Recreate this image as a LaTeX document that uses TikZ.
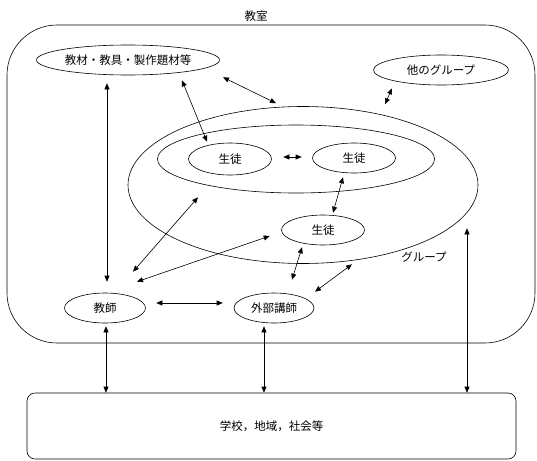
\documentclass[tikz,border=0pt]{standalone}
\usepackage{fontspec}
\newfontfamily\jp{Noto Sans CJK JP}
\usetikzlibrary{shapes.geometric,arrows.meta,calc}
\tikzset{
  lbl/.style={font=\jp\fontsize{11.5}{13}\selectfont, inner sep=0pt},
  ell/.style={draw, ellipse, inner sep=0pt, line width=0.6pt, lbl},
  arr/.style={line width=0.6pt, {Triangle[length=6pt,width=5pt]}-{Triangle[length=6pt,width=5pt]}},
}
\begin{document}
\begin{tikzpicture}[x=1pt,y=-1pt]
\useasboundingbox (0,0) rectangle (537,460);
% classroom
\node[draw, line width=0.6pt, rectangle, rounded corners=50pt, minimum width=528pt, minimum height=318pt, inner sep=0pt] (room) at (271,184) {};
\node[lbl] (roomlbl) at (256,16) {教室};
% school box
\node[draw, line width=0.6pt, rectangle, rounded corners=8pt, minimum width=489pt, minimum height=66pt, lbl] (school) at (271.5,426) {学校，地域，社会等};
% group ellipses
\node[ell, minimum width=350pt, minimum height=157pt] (big) at (303,185) {};
\node[ell, minimum width=277pt, minimum height=68pt] (inner) at (296,159) {};
\node[lbl] (grouplbl) at (424,257) {グループ};
% nodes
\node[ell, minimum width=183pt, minimum height=30pt] (kyozai) at (128,60) {教材・教具・製作題材等};
\node[ell, minimum width=135pt, minimum height=30pt] (tagroup) at (441,70) {他のグループ};
\node[ell, minimum width=83pt, minimum height=32pt] (s1) at (230,159) {生徒};
\node[ell, minimum width=83pt, minimum height=30pt] (s2) at (354,158) {生徒};
\node[ell, minimum width=83pt, minimum height=30pt] (s3) at (323,230) {生徒};
\node[ell, minimum width=81pt, minimum height=30pt] (kyoshi) at (105,308) {教師};
\node[ell, minimum width=80pt, minimum height=30pt] (gaibu) at (274,308) {外部講師};
% free ends
\coordinate (k1) at ($(kyoshi.south)+(1,3)$);
\coordinate (g1) at ($(gaibu.south)+(-10,3)$);
\coordinate (b1) at ($(big.south)+(164,-35.5)$);
\coordinate (k2) at (k1 |- school.north);
\coordinate (g2) at (g1 |- school.north);
\coordinate (b2) at (b1 |- school.north);
% connectors
\draw[arr] ($(kyozai.south)+(-21,8)$) -- ($(kyoshi.north)+(2,-11)$);
\draw[arr] ($(kyozai.south)+(54,5)$) -- ($(s1.north)+(-23,-1)$);
\draw[arr] ($(kyozai.south)+(95,2)$) -- ($(big.north)+(-27,-3)$);
\draw[arr] ($(tagroup.south)+(-49,3)$) -- ($(tagroup.south)+(-56,19)$);
\draw[arr] ($(s1.east)+(11.5,-2)$) -- ($(s2.west)+(-10.5,-1)$);
\draw[arr] ($(s2.south)+(-11,4)$) -- ($(s3.north)+(10,-2)$);
\draw[arr] ($(s1.south)+(-32,22)$) -- ($(kyoshi.north)+(28,-21)$);
\draw[arr] ($(s3.west)+(-11.5,6)$) -- ($(kyoshi.north)+(32,-11)$);
\draw[arr] ($(s3.south)+(-21,2)$) -- ($(gaibu.north)+(18,-13)$);
\draw[arr] ($(s3.south)+(29,19)$) -- ($(gaibu.north)+(41,-1)$);
\draw[arr] ($(kyoshi.east)+(10.5,-5)$) -- ($(gaibu.west)+(-11,-5)$);
\draw[arr] (k1) -- (k2);
\draw[arr] (g1) -- (g2);
\draw[arr] (b1) -- (b2);
\end{tikzpicture}
\end{document}
